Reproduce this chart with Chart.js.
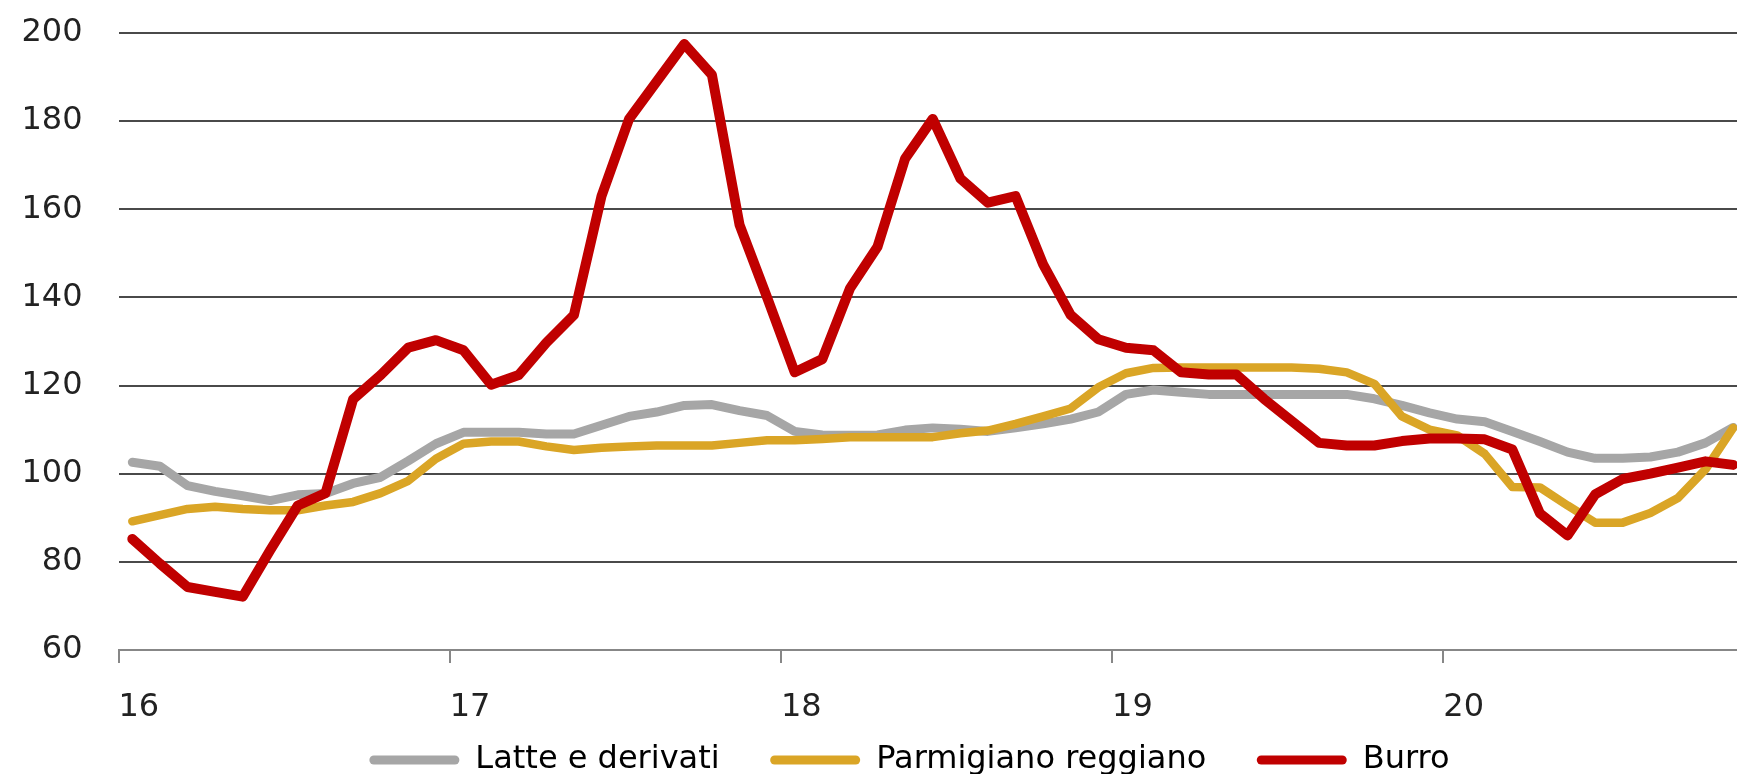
<!DOCTYPE html>
<html lang="it">
<head>
  <meta charset="UTF-8">
  <title>Latte, Parmigiano, Burro</title>
  <script src="https://cdn.jsdelivr.net/npm/chart.js"></script>
  <style>
    body { margin: 0; background: #fff; }
    #frame { width: 1737px; height: 774px; overflow: hidden; position: relative; }
    #wrap { width: 1798px; height: 786px; position: absolute; left: 0; top: 0; }
  </style>
</head>
<body>

<div id="frame">
  <div id="wrap"><canvas id="chart"></canvas></div>
</div>

<script>
// monthly series, Jan 2016 .. Nov 2020
const latte = [102.6, 101.7, 97.3, 96, 95, 93.9, 95.2, 95.5, 97.8, 99.2, 102.9, 106.8,
  109.4, 109.4, 109.4, 109, 109, 111, 113, 114, 115.5, 115.7, 114.3, 113.2,
  109.6, 108.8, 108.7, 108.8, 109.9, 110.4, 110.1, 109.6, 110.4, 111.3, 112.4, 114,
  118, 119, 118.5, 118, 118, 118, 118, 118, 118, 117, 115.5, 113.8,
  112.4, 111.8, 109.6, 107.3, 104.9, 103.5, 103.5, 103.8, 104.9, 107, 110.5];

const parmigiano = [89.2, 90.6, 92, 92.5, 92, 91.7, 91.7, 92.8, 93.6, 95.6, 98.4, 103.4,
  106.8, 107.3, 107.3, 106.2, 105.4, 105.9, 106.2, 106.4, 106.4, 106.4, 107, 107.6,
  107.6, 107.9, 108.3, 108.3, 108.3, 108.3, 109.2, 109.8, 111.3, 113, 114.8, 119.6,
  122.8, 124, 124.1, 124.1, 124.1, 124.1, 124.1, 123.8, 123, 120.4, 113, 110,
  108.7, 104.5, 97, 96.9, 92.8, 88.9, 88.9, 91.1, 94.5, 101, 110.4];

const burro = [85.2, 79.6, 74.3, 73.2, 72.1, 82.7, 92.8, 95.6, 116.9, 122.4, 128.6, 130.3,
  128, 120.2, 122.4, 129.7, 136, 163, 180.5, 189, 197.5, 190.5, 156.5, 140,
  123, 126, 142, 151.5, 171.5, 180.5, 167, 161.5, 163, 147.5, 136, 130.5,
  128.6, 128, 123, 122.5, 122.5, 117, 112, 107, 106.4, 106.4, 107.4, 108,
  108, 107.8, 105.5, 91, 86, 95.3, 98.8, 100, 101.4, 102.8, 102];

const yearLabels = ['16', '17', '18', '19', '20'];
const yearTicks = [0, 12, 24, 36, 48];   // months since Jan 2016

// each month sits in the middle of its slot on the date axis
function toPoints(values) {
  return values.map((v, i) => ({ x: i + 0.5, y: v }));
}

const font = { family: '"DejaVu Sans", sans-serif', size: 32 };
Chart.defaults.color = '#222';

new Chart(document.getElementById('chart'), {
  type: 'line',
  data: {
    datasets: [
      { label: 'Burro', data: toPoints(burro), borderColor: '#C00000', backgroundColor: '#C00000', borderWidth: 10 },
      { label: 'Parmigiano reggiano', data: toPoints(parmigiano), borderColor: '#DAA526', backgroundColor: '#DAA526', borderWidth: 8.5 },
      { label: 'Latte e derivati', data: toPoints(latte), borderColor: '#A6A6A6', backgroundColor: '#A6A6A6', borderWidth: 9 }
    ]
  },
  options: {
    responsive: true,
    maintainAspectRatio: false,
    animation: false,
    layout: { padding: { left: 21, top: 33, right: 0, bottom: 0 } },
    elements: {
      point: { radius: 0 },
      line: { tension: 0, borderJoinStyle: 'round', borderCapStyle: 'round', fill: false }
    },
    scales: {
      x: {
        type: 'linear',
        min: 0,
        max: 60.85,
        afterBuildTicks: axis => { axis.ticks = yearTicks.map(v => ({ value: v })); },
        afterFit: axis => { axis.height = 74; },
        ticks: {
          font: font,
          align: 'start',
          padding: 25,
          callback: v => yearLabels[yearTicks.indexOf(v)]
        },
        grid: { drawOnChartArea: false, drawTicks: true, tickLength: 13, color: '#878787', lineWidth: 2 },
        border: { display: true, color: '#878787', width: 2 }
      },
      y: {
        min: 60,
        max: 200,
        // fixed width; tick padding should not also push the plot down
        afterFit: axis => { axis.width = 97.5; axis.paddingTop = 20; axis.paddingBottom = 20; },
        ticks: { stepSize: 20, font: font, padding: 36 },
        grid: {
          drawTicks: false,
          lineWidth: 2,
          color: c => c.tick && c.tick.value === 60 ? 'rgba(0,0,0,0)' : '#4a4a4a'
        },
        border: { display: false }
      }
    },
    plugins: {
      tooltip: { enabled: false },
      legend: {
        position: 'bottom',
        reverse: true,
        labels: {
          font: font,
          boxWidth: 90,
          boxHeight: 9,
          padding: 20,
          generateLabels: chart => chart.data.datasets.map((ds, i) => ({
            text: i === 0 ? ds.label : ds.label + '   ',
            fillStyle: ds.borderColor,
            strokeStyle: ds.borderColor,
            lineWidth: 0,
            borderRadius: 4.5,
            datasetIndex: i,
            hidden: false
          })),
          useBorderRadius: true,
          borderRadius: 4.5
        }
      }
    }
  }
});
</script>

</body>
</html>
